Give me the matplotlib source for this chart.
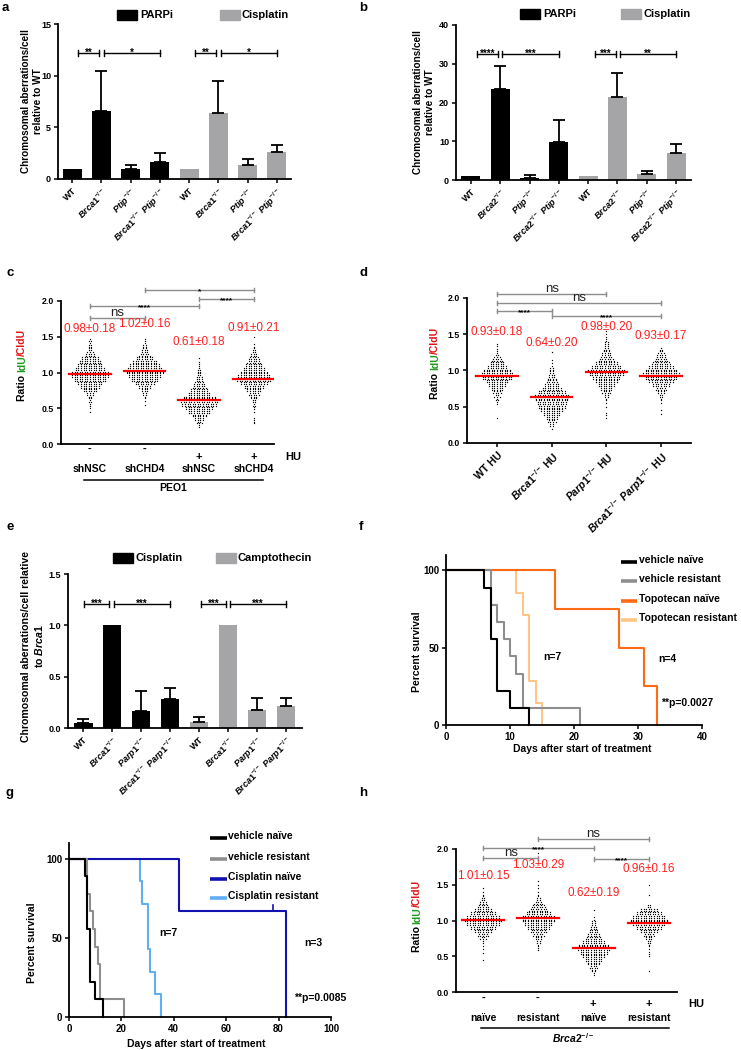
import numpy as np
import matplotlib
matplotlib.use("Agg")
import matplotlib.pyplot as plt
from matplotlib.patches import Rectangle
from matplotlib.transforms import offset_copy

plt.rcParams['font.family'] = ['Liberation Sans', 'DejaVu Sans']
plt.rcParams['font.weight'] = 'bold'
plt.rcParams['mathtext.fontset'] = 'custom'
plt.rcParams['mathtext.rm'] = 'Liberation Sans:bold'
plt.rcParams['mathtext.it'] = 'Liberation Sans:italic:bold'
plt.rcParams['mathtext.bf'] = 'Liberation Sans:bold'
plt.rcParams['axes.linewidth'] = 1.3

# ---------------- data ----------------
# a: aberrations relative to WT, Brca1 / Ptip
a_labels = ['WT', r'$\mathit{Brca1}^{-/-}$', r'$\mathit{Ptip}^{-/-}$',
            r'$\mathit{Brca1}^{-/-}\ \mathit{Ptip}^{-/-}$'] * 2
a_parpi = [1.0, 6.6, 1.0, 1.6]
a_parpi_err = [0.0, 3.9, 0.4, 0.9]
a_cis = [1.0, 6.4, 1.4, 2.6]
a_cis_err = [0.0, 3.1, 0.5, 0.7]
a_sig = ['**', '*', '**', '*']

# b: aberrations relative to WT, Brca2 / Ptip
b_labels = ['WT', r'$\mathit{Brca2}^{-/-}$', r'$\mathit{Ptip}^{-/-}$',
            r'$\mathit{Brca2}^{-/-}\ \mathit{Ptip}^{-/-}$'] * 2
b_parpi = [1.0, 23.4, 0.6, 9.9]
b_parpi_err = [0.0, 6.0, 0.6, 5.7]
b_cis = [1.0, 21.3, 1.5, 6.9]
b_cis_err = [0.0, 6.4, 0.8, 2.4]
b_sig = ['****', '***', '***', '**']

# e: aberrations relative to Brca1, Brca1 / Parp1
e_labels = ['WT', r'$\mathit{Brca1}^{-/-}$', r'$\mathit{Parp1}^{-/-}$',
            r'$\mathit{Brca1}^{-/-}\ \mathit{Parp1}^{-/-}$'] * 2
e_cis = [0.05, 1.0, 0.17, 0.28]
e_cis_err = [0.04, 0.0, 0.19, 0.11]
e_campt = [0.06, 1.0, 0.18, 0.21]
e_campt_err = [0.05, 0.0, 0.11, 0.08]
e_sig = ['***', '***', '***', '***']

# fibre ratios: dot counts per 0.05 bin, bins centred at 0.20, 0.25, ...
bin_lo = 0.20
bin_w = 0.05
c_counts = [
    [0, 0, 0, 0, 0, 1, 1, 2, 3, 4, 6, 12, 16, 20, 26, 30, 30, 24, 20, 18, 14, 8, 5, 4, 3, 3],
    [0, 0, 0, 0, 0, 0, 0, 1, 1, 2, 4, 6, 10, 16, 22, 26, 30, 28, 24, 20, 14, 9, 6, 4, 3, 2],
    [0, 2, 5, 8, 12, 18, 22, 28, 30, 26, 18, 14, 11, 9, 6, 5, 4, 3, 2, 1, 1],
    [0, 0, 2, 2, 0, 1, 2, 3, 4, 6, 9, 12, 16, 22, 28, 26, 22, 18, 14, 11, 9, 6, 4, 2, 1, 0, 1],
]
c_mean = [0.98, 1.02, 0.61, 0.91]
c_sd = [0.18, 0.16, 0.18, 0.21]
c_names = ['shNSC', 'shCHD4', 'shNSC', 'shCHD4']
c_hu = ['-', '-', '+', '+']

d_counts = [
    [0, 0, 0, 1, 0, 0, 0, 2, 3, 5, 7, 10, 14, 18, 24, 26, 22, 16, 12, 9, 5, 2, 1, 2],
    [1, 4, 7, 10, 14, 18, 22, 24, 26, 28, 22, 16, 12, 9, 7, 5, 4, 3, 1, 1, 0, 1],
    [0, 0, 0, 1, 2, 0, 1, 1, 2, 4, 7, 10, 14, 18, 22, 28, 30, 24, 18, 13, 9, 7, 5, 4, 3, 2, 1, 1],
    [0, 0, 0, 0, 1, 1, 0, 1, 2, 4, 6, 9, 14, 20, 26, 30, 26, 20, 15, 11, 8, 5, 3],
]
d_mean = [0.93, 0.64, 0.98, 0.93]
d_sd = [0.18, 0.20, 0.20, 0.17]
d_labels = ['WT HU', r'$\mathit{Brca1}^{-/-}$ HU', r'$\mathit{Parp1}^{-/-}$ HU',
            r'$\mathit{Brca1}^{-/-}\ \mathit{Parp1}^{-/-}$ HU']

h_counts = [
    [0, 0, 0, 0, 0, 1, 0, 1, 1, 1, 2, 5, 9, 14, 20, 26, 30, 26, 20, 14, 9, 6, 4, 2, 1, 1],
    [0, 0, 0, 0, 0, 0, 0, 0, 2, 2, 4, 6, 9, 13, 18, 22, 26, 26, 20, 15, 11, 7, 4, 2, 1,
     1, 1, 1, 0, 0, 0, 0, 0, 0, 0, 1],
    [0, 2, 4, 7, 10, 14, 18, 22, 26, 24, 18, 13, 10, 8, 6, 4, 3, 1, 0, 1],
    [0, 0, 1, 0, 0, 0, 1, 2, 1, 2, 4, 6, 9, 14, 20, 26, 30, 26, 20, 14, 4, 0, 0, 1, 0, 0, 1],
]
h_mean = [1.01, 1.03, 0.62, 0.96]
h_sd = [0.15, 0.29, 0.19, 0.16]
h_names = ['naïve', 'resistant', 'naïve', 'resistant']
h_hu = ['-', '-', '+', '+']

# significance: (group i, group j, label)
c_sig = [(0, 1, 'ns'), (0, 2, '****'), (1, 3, '*'), (2, 3, '****')]
d_sig = [(0, 2, 'ns'), (0, 3, 'ns'), (0, 1, '****'), (1, 3, '****')]
h_sig = [(0, 1, 'ns'), (0, 2, '****'), (1, 3, 'ns'), (2, 3, '****')]

# survival (days, percent)
veh_naive_t = [0, 6, 7, 8, 10, 13]
veh_naive_s = [100, 88.9, 55.6, 22.2, 11.1, 0]
veh_res_t = [0, 7, 8, 9, 10, 11, 12, 21]
veh_res_s = [100, 77.8, 66.7, 55.6, 44.4, 33.3, 11.1, 0]
topo_naive_t = [0, 17, 27, 31, 33]
topo_naive_s = [100, 75, 50, 25, 0]
topo_res_t = [0, 11, 12, 13, 14, 15]
topo_res_s = [100, 85.7, 71.4, 28.6, 14.3, 0]
cis_naive_t = [0, 42, 83]
cis_naive_s = [100, 66.7, 0]
cis_naive_censor = [78]
cis_res_t = [0, 27, 28, 30, 31, 33, 35]
cis_res_s = [100, 85.7, 71.4, 42.9, 28.6, 14.3, 0]

# ---------------- figure ----------------
W, H = 741, 1050
fig = plt.figure(figsize=(W / 100, H / 100), dpi=100)

BLACK = '#000000'
GRAY = '#a5a5a8'
RED = '#ff2020'
GREEN = '#1f9a1f'
BRK = '#8c8c8c'


def rect(l, t, r, b):
    return [l / W, 1 - b / H, (r - l) / W, (b - t) / H]


ov = fig.add_axes([0, 0, 1, 1], zorder=10)
ov.set_xlim(0, W)
ov.set_ylim(H, 0)
ov.axis('off')


def T(x, y, s, **kw):
    kw.setdefault('ha', 'center')
    kw.setdefault('va', 'center')
    return ov.text(x, y, s, **kw)


def style(ax, size=6.5):
    for sp in ['top', 'right']:
        ax.spines[sp].set_visible(False)
    ax.tick_params(direction='out', length=3, width=1.1, labelsize=size, pad=2)


def bar_panel(r, v1, e1, v2, e2, labels, xlim, ymax, yticks, ylabels, sig, sig_x, sig_y):
    ax = fig.add_axes(rect(*r))
    x = np.arange(8)
    vals = list(v1) + list(v2)
    errs = list(e1) + list(e2)
    ax.bar(x, vals, width=0.65, color=[BLACK] * 4 + [GRAY] * 4, zorder=2)
    for xi, v, e in zip(x, vals, errs):
        if e > 0:
            ax.errorbar(xi, v, yerr=[[0], [e]], fmt='none', ecolor='k',
                        elinewidth=1.3, capsize=4.5, capthick=1.3, zorder=3)
    ax.set_xlim(*xlim)
    ax.set_ylim(0, ymax)
    ax.set_yticks(yticks)
    ax.set_yticklabels(ylabels)
    ax.set_xticks(x)
    ax.set_xticklabels(labels, rotation=45, ha='right', rotation_mode='anchor', fontsize=7.5)
    style(ax)
    hcap = 3 * ymax / (r[3] - r[1])
    tr = offset_copy(ax.transData, fig=fig, y=-3, units='dots')
    for (x1, x2), s in zip(sig_x, sig):
        ax.plot([x1, x2], [sig_y, sig_y], color='k', lw=1)
        ax.plot([x1, x1], [sig_y - hcap, sig_y + hcap], color='k', lw=1)
        ax.plot([x2, x2], [sig_y - hcap, sig_y + hcap], color='k', lw=1)
        ax.text((x1 + x2) / 2, sig_y, s, transform=tr, ha='center', va='baseline', fontsize=7)
    return ax


def swarm(ax, counts, x0, dx=0.047):
    xs, ys = [], []
    for i, n in enumerate(counts):
        if n == 0:
            continue
        yc = bin_lo + i * bin_w
        if n == 1:
            rows, offs = [1], [0.0]
        else:
            rows, offs = [(n + 1) // 2, n // 2], [-bin_w / 4, bin_w / 4]
        for k, oy in zip(rows, offs):
            xs.extend(x0 + (np.arange(k) - (k - 1) / 2) * dx)
            ys.extend([yc + oy] * k)
    ax.scatter(xs, ys, s=0.9, c='k', linewidths=0, zorder=2)


def dot_panel(r, xlim, counts, means, sds, lab_y, sig, sig_y):
    ax = fig.add_axes(rect(*r))
    for i, cnt in enumerate(counts):
        swarm(ax, cnt, i)
        ax.plot([i - 0.38, i + 0.38], [means[i]] * 2, color='#ff0000', lw=1.6, zorder=3)
        ax.text(i, lab_y[i], f'{means[i]:.2f}\u00b1{sds[i]:.2f}', color=RED,
                fontsize=8.5, fontweight='normal', ha='center', va='center')
    ax.set_xlim(*xlim)
    ax.set_ylim(0, 2)
    ax.set_yticks([0, 0.5, 1.0, 1.5, 2.0])
    ax.set_yticklabels(['0.0', '0.5', '1.0', '1.5', '2.0'])
    ax.set_xticks(range(4))
    style(ax, 6.3)
    hcap = 2 * 2 / (r[3] - r[1])
    tr_ns = offset_copy(ax.transData, fig=fig, y=-1, units='dots')
    tr_st = offset_copy(ax.transData, fig=fig, y=-3, units='dots')
    for (i, j, s), y in zip(sig, sig_y):
        ax.plot([i, j], [y, y], color=BRK, lw=1, clip_on=False)
        ax.plot([i, i], [y - hcap, y + hcap], color=BRK, lw=1, clip_on=False)
        ax.plot([j, j], [y - hcap, y + hcap], color=BRK, lw=1, clip_on=False)
        if s == 'ns':
            ax.text((i + j) / 2, y, s, transform=tr_ns, ha='center', va='bottom',
                    fontsize=9.5, fontweight='normal', color='#222222')
        else:
            ax.text((i + j) / 2, y, s, transform=tr_st, ha='center', va='baseline', fontsize=6)
    return ax


def surv_panel(r, xmax, xstep, curves):
    ax = fig.add_axes(rect(*r))
    for t, s, c in curves:
        ax.step(t, s, where='post', color=c, lw=1.5, clip_on=False)
    ax.set_xlim(0, xmax)
    ax.set_ylim(0, 110)
    ax.set_xticks(np.arange(0, xmax + 1, xstep))
    ax.set_yticks([0, 50, 100])
    style(ax, 7)
    return ax


def ratio_label(x, yc, size=7.5):
    full = 'Ratio IdU/CldU'
    parts = [('Ratio IdU/CldU', 'black'), ('IdU/CldU', GREEN), ('/CldU', '#e01515')]
    rend = fig.canvas.get_renderer()

    def width(s):
        t = ov.text(0, 0, s, fontsize=size, rotation=90)
        bb = t.get_window_extent(rend)
        t.remove()
        return bb.height

    total = width(full)
    y0 = yc + total / 2
    pieces = ['Ratio ', 'IdU', '/CldU']
    for (suffix, col), piece in zip(parts, pieces):
        off = total - width(suffix)
        T(x, y0 - off, piece, rotation=90, va='bottom', fontsize=size, color=col)


# ---- a ----
bar_panel((58, 24, 291, 179), a_parpi, a_parpi_err, a_cis, a_cis_err, a_labels,
          (-0.48, 7.48), 15, [0, 5, 10, 15], ['0', '5', '10', '15'], a_sig,
          [(0.2, 0.93), (1.1, 3.0), (4.2, 4.93), (5.1, 7.0)], 12.2)
T(32, 101, 'Chromosomal aberrations/cell\nrelative to WT', rotation=90, fontsize=7.2, linespacing=1.15)
ov.add_patch(Rectangle((117, 10), 20, 10, color=BLACK))
T(140, 15, 'PARPi', ha='left', fontsize=8)
ov.add_patch(Rectangle((220, 10), 20, 10, color=GRAY))
T(242, 15, 'Cisplatin', ha='left', fontsize=8)

# ---- b ----
bar_panel((456, 25, 691, 180), b_parpi, b_parpi_err, b_cis, b_cis_err, b_labels,
          (-0.51, 7.51), 40, [0, 10, 20, 30, 40], ['0', '10', '20', '30', '40'], b_sig,
          [(0.2, 0.93), (1.05, 3.0), (4.25, 4.95), (5.07, 7.0)], 32.5)
T(424, 102, 'Chromosomal aberrations/cell\nrelative to WT', rotation=90, fontsize=7.2, linespacing=1.15)
ov.add_patch(Rectangle((520, 9), 20, 10, color=BLACK))
T(543, 14, 'PARPi', ha='left', fontsize=8)
ov.add_patch(Rectangle((621, 9), 20, 10, color=GRAY))
T(643, 14, 'Cisplatin', ha='left', fontsize=8)

# ---- c ----
ax_c = dot_panel((61, 301, 274, 444), (-0.53, 3.37), c_counts, c_mean, c_sd,
                 [1.61, 1.68, 1.43, 1.62], c_sig, [1.76, 1.93, 2.15, 2.03])
ax_c.tick_params(axis='x', length=0, labelbottom=False)
ratio_label(22, 365)
cx = [90, 144.5, 199, 254]
for x, hu, nm in zip(cx, c_hu, c_names):
    T(x, 449 if hu == '-' else 457, hu, fontsize=8)
    T(x, 469, nm, fontsize=7.5)
T(293, 457, 'HU', fontsize=8)
ov.plot([84, 263], [480, 480], color='k', lw=1.1)
T(173, 488, 'PEO1', fontsize=7.5)

# ---- d ----
ax_d = dot_panel((467, 298, 691, 443), (-0.55, 3.55), d_counts, d_mean, d_sd,
                 [1.53, 1.38, 1.60, 1.48], d_sig, [2.05, 1.93, 1.82, 1.745])
ax_d.set_xticklabels(d_labels, rotation=45, ha='right', rotation_mode='anchor', fontsize=7.5)
ratio_label(435, 363)

# ---- e ----
bar_panel((68, 574, 302, 728), e_cis, e_cis_err, e_campt, e_campt_err, e_labels,
          (-0.52, 7.55), 1.5, [0, 0.5, 1.0, 1.5], ['0.0', '0.5', '1.0', '1.5'], e_sig,
          [(0.03, 0.9), (1.05, 3.0), (4.07, 4.93), (5.05, 7.0)], 1.21)
T(33, 646, 'Chromosomal aberrations/cell relative\nto $\\mathit{Brca1}$', rotation=90,
  fontsize=7.6, linespacing=1.15)
ov.add_patch(Rectangle((113, 553), 20, 10, color=BLACK))
T(136, 558, 'Cisplatin', ha='left', fontsize=8)
ov.add_patch(Rectangle((216, 553), 20, 10, color=GRAY))
T(238, 558, 'Camptothecin', ha='left', fontsize=8)

# ---- f ----
ORANGE = '#ff6a14'
PEACH = '#ffc587'
VGRAY = '#8e8e8e'
surv_panel((446, 555, 702, 725), 40, 10, [
    (topo_res_t, topo_res_s, PEACH),
    (topo_naive_t, topo_naive_s, ORANGE),
    (veh_res_t, veh_res_s, VGRAY),
    (veh_naive_t, veh_naive_s, BLACK)])
for y, lab, col in zip([560, 579, 599, 618],
                       ['vehicle naïve', 'vehicle resistant', 'Topotecan naïve', 'Topotecan resistant'],
                       [BLACK, VGRAY, ORANGE, PEACH]):
    ov.plot([621, 637], [y + 2, y + 2], color=col, lw=2.6, solid_capstyle='butt')
    T(639, y, lab, ha='left', fontsize=7.5)
T(552, 657, 'n=7', fontsize=7.5)
T(667, 659, 'n=4', fontsize=7.5)
T(687, 703, '**p=0.0027', fontsize=7.5)
T(582, 749, 'Days after start of treatment', fontsize=7.5)
T(417, 652, 'Percent survival', rotation=90, fontsize=7.5)

# ---- g ----
DBLUE = '#1212b0'
LBLUE = '#62aef2'
ax_g = surv_panel((69, 843, 331, 1017), 100, 20, [
    (cis_res_t, cis_res_s, LBLUE),
    (cis_naive_t, cis_naive_s, DBLUE),
    (veh_res_t, veh_res_s, VGRAY),
    (veh_naive_t, veh_naive_s, BLACK)])
for t in cis_naive_censor:
    ax_g.plot([t, t], [66.7, 70.5], color=DBLUE, lw=1.2)
for y, lab, col in zip([836, 857, 877, 896],
                       ['vehicle naïve', 'vehicle resistant', 'Cisplatin naïve', 'Cisplatin resistant'],
                       [BLACK, VGRAY, DBLUE, LBLUE]):
    ov.plot([210, 227], [y + 2, y + 2], color=col, lw=2.6, solid_capstyle='butt')
    T(228, y, lab, ha='left', fontsize=7.5)
T(168, 933, 'n=7', fontsize=7.5)
T(313, 943, 'n=3', fontsize=7.5)
T(320, 998, '**p=0.0085', fontsize=7.5)
T(196, 1044, 'Days after start of treatment', fontsize=7.5)
T(32, 943, 'Percent survival', rotation=90, fontsize=7.5)

# ---- h ----
ax_h = dot_panel((456, 849, 677, 992), (-0.49, 3.51), h_counts, h_mean, h_sd,
                 [1.62, 1.78, 1.38, 1.72], h_sig, [1.87, 2.01, 2.14, 1.86])
ax_h.tick_params(axis='x', length=0, labelbottom=False)
ratio_label(417, 916)
hx = [483, 538, 593, 649]
for x, hu, nm in zip(hx, h_hu, h_names):
    T(x, 998 if hu == '-' else 1004, hu, fontsize=8)
    T(x, 1018, nm, fontsize=7.5)
T(696, 1004, 'HU', fontsize=8)
ov.plot([481, 669], [1028, 1028], color='k', lw=1.1)
T(573, 1038, r'$\mathit{Brca2}^{-/-}$', fontsize=7.5)

# panel letters
for s, x, y in [('a', 5, 8), ('b', 363, 8), ('c', 10, 273), ('d', 363, 273),
                ('e', 10, 527), ('f', 361, 527), ('g', 10, 793), ('h', 363, 793)]:
    T(x, y, s, fontsize=9.5)

fig.savefig('out.png', dpi=100)
